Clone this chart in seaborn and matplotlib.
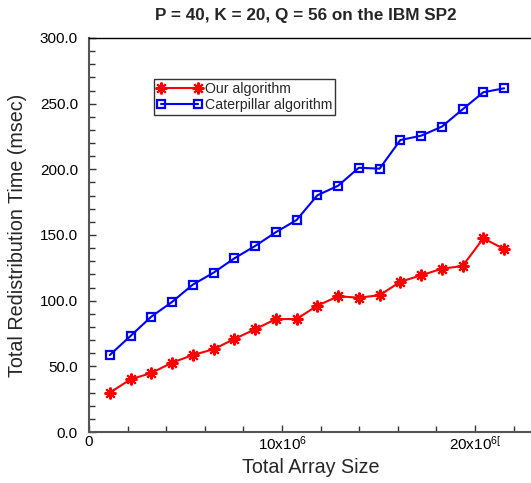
import matplotlib
matplotlib.use("Agg")
import matplotlib.pyplot as plt
from matplotlib.ticker import MultipleLocator, FixedLocator, FixedFormatter, FormatStrFormatter
import numpy as np
import pandas as pd
import seaborn as sns

# Total array size for each run (elements)
array_size = [1075200 * i for i in range(1, 21)]

# Total redistribution time (msec)
our_algorithm = [29.9, 40.1, 44.9, 52.8, 58.6, 63.0, 70.8, 78.2, 86.0, 86.0,
                 96.2, 103.3, 102.3, 104.1, 114.4, 119.3, 124.3, 126.4, 147.5, 139.3]
caterpillar = [58.6, 73.1, 87.8, 99.0, 112.2, 121.3, 132.2, 141.6, 152.1, 161.4,
               180.2, 187.5, 201.2, 200.5, 222.3, 225.6, 232.5, 245.7, 258.7, 261.7]

series_names = ["Our algorithm", "Caterpillar algorithm"]
x_tick_values = [0, 10e6, 20e6]
x_tick_labels = ["0", "10x10$^{6}$", "20x10$^{6[}$"]

sns.set_style("ticks")
plt.rcParams["font.family"] = ["Liberation Sans", "DejaVu Sans"]
plt.rcParams["mathtext.fontset"] = "custom"
plt.rcParams["mathtext.rm"] = "Liberation Sans"
plt.rcParams["mathtext.it"] = "Liberation Sans"

df = pd.DataFrame({
    "size": array_size * 2,
    "time": our_algorithm + caterpillar,
    "algo": [series_names[0]] * len(array_size) + [series_names[1]] * len(array_size),
})

fig = plt.figure(figsize=(5.31, 4.83), dpi=100)
ax = fig.add_axes([89 / 531, 51 / 483, 444 / 531, 394 / 483])

sns.lineplot(data=df[df.algo == series_names[0]], x="size", y="time", ax=ax,
             color="#ff0000", marker=(8, 2, 0), markersize=8.5, markeredgewidth=1.5,
             markeredgecolor="#ff0000", linewidth=1.5, label=series_names[0])
sns.lineplot(data=df[df.algo == series_names[1]], x="size", y="time", ax=ax,
             color="#0000ff", marker="s", markersize=6.3, markerfacecolor="none",
             markeredgewidth=1.6, markeredgecolor="#0000ff", linewidth=1.5,
             label=series_names[1])

ax.set_xlim(0, 23e6)
ax.set_ylim(0, 300)

ax.xaxis.set_major_locator(FixedLocator(x_tick_values))
ax.xaxis.set_major_formatter(FixedFormatter(x_tick_labels))
ax.xaxis.set_minor_locator(MultipleLocator(2e6))
ax.yaxis.set_major_locator(MultipleLocator(50))
ax.yaxis.set_minor_locator(MultipleLocator(10))
ax.yaxis.set_major_formatter(FormatStrFormatter("%.1f"))

ax.tick_params(which="both", direction="in", color="#333333", labelsize=11,
               labelcolor="black")
ax.tick_params(which="major", length=5, width=1)
ax.tick_params(which="minor", length=4, width=1)
ax.tick_params(axis="x", pad=2)
ax.tick_params(axis="y", pad=8)

for side in ("left", "bottom"):
    ax.spines[side].set_color("#555555")
    ax.spines[side].set_linewidth(1.5)
ax.spines["top"].set_visible(True)
ax.spines["top"].set_color("black")
ax.spines["top"].set_linewidth(1.0)
ax.spines["right"].set_visible(False)

ax.set_xlabel("Total Array Size", fontsize=14.2, labelpad=3)
ax.set_ylabel("Total Redistribution Time (msec)", fontsize=14.2, labelpad=9)
ax.set_title("P = 40, K = 20, Q = 56 on the IBM SP2", fontsize=12.3,
             fontweight="bold", pad=13, x=0.489)

leg = ax.legend(loc="upper left", bbox_to_anchor=(65 / 444, 1 - 41 / 394),
                numpoints=2, fontsize=10.2, frameon=True, fancybox=False,
                edgecolor="black", borderpad=0.22, handlelength=3.2,
                handletextpad=0.15, labelspacing=0.15, borderaxespad=0)
leg.get_frame().set_linewidth(1.0)

fig.savefig("out.png", dpi=100)
